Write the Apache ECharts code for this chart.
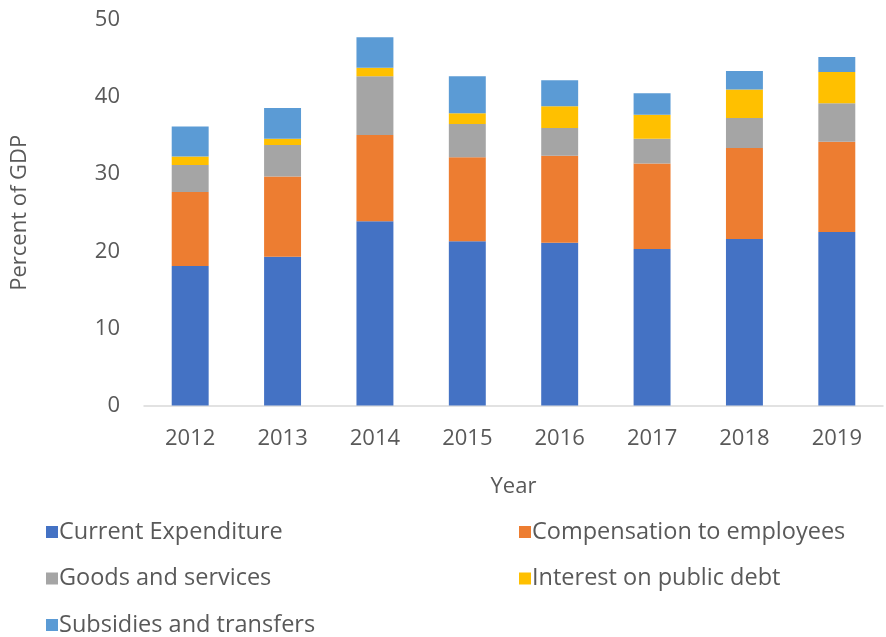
<!DOCTYPE html>
<html>
<head>
<meta charset="utf-8">
<script src="https://cdn.jsdelivr.net/npm/echarts@6/dist/echarts.min.js"></script>
<style>html,body{margin:0;padding:0;background:#fff;}#c{width:886px;height:637px;}</style>
</head>
<body>
<div id="c"></div>
<script>
const years = ['2012','2013','2014','2015','2016','2017','2018','2019'];
const currentExpenditure = [18.1, 19.3, 23.9, 21.3, 21.1, 20.3, 21.6, 22.5];
const compensation = [9.6, 10.4, 11.2, 10.9, 11.3, 11.1, 11.8, 11.7];
const goodsServices = [3.5, 4.1, 7.6, 4.3, 3.6, 3.2, 3.9, 5.0];
const interestDebt = [1.1, 0.8, 1.1, 1.4, 2.8, 3.1, 3.7, 4.05];
const subsidies = [3.9, 4.0, 3.95, 4.8, 3.4, 2.8, 2.4, 1.95];
const seriesNames = ['Current Expenditure','Compensation to employees','Goods and services','Interest on public debt','Subsidies and transfers'];
const colors = ['#4472C4','#ED7D31','#A5A5A5','#FFC000','#5B9BD5'];
const values = [currentExpenditure, compensation, goodsServices, interestDebt, subsidies];

const font = 'Open Sans';
const txt = '#595959';
const chart = echarts.init(document.getElementById('c'));
chart.setOption({
  animation: false,
  color: colors,
  textStyle: {fontFamily: font},
  grid: {left: 144, right: 3, top: 20, bottom: 231.5, containLabel: false},
  legend: [
    {data: [seriesNames[0], seriesNames[2], seriesNames[4]], orient: 'vertical', left: 46, top: 520, height: 200,
     padding: 0, itemWidth: 12, itemHeight: 12, itemGap: 22.5, icon: 'rect',
     textStyle: {fontSize: 23.5, color: txt, fontFamily: font, padding: [0,0,0,-4]}},
    {data: [seriesNames[1], seriesNames[3]], orient: 'vertical', left: 519, top: 520, height: 200,
     padding: 0, itemWidth: 12, itemHeight: 12, itemGap: 22.5, icon: 'rect',
     textStyle: {fontSize: 23.5, color: txt, fontFamily: font, padding: [0,0,0,-4]}}
  ],
  xAxis: {
    type: 'category', data: years,
    name: 'Year', nameLocation: 'middle', nameGap: 70,
    nameTextStyle: {fontSize: 22, color: txt, fontFamily: font},
    axisLine: {lineStyle: {color: '#D9D9D9', width: 1.5}},
    axisTick: {show: false},
    axisLabel: {fontSize: 22, color: txt, margin: 22, fontFamily: font}
  },
  yAxis: {
    type: 'value', min: 0, max: 50, interval: 10,
    name: 'Percent of GDP', nameLocation: 'middle', nameGap: 113, nameRotate: 90,
    nameTextStyle: {fontSize: 22, color: txt, fontFamily: font},
    axisLine: {show: false}, axisTick: {show: false},
    splitLine: {show: false},
    axisLabel: {fontSize: 22, color: txt, margin: 24, fontFamily: font}
  },
  series: seriesNames.map((n, i) => ({
    name: n, type: 'bar', stack: 'total', barWidth: '40%',
    data: values[i], itemStyle: {color: colors[i]}
  }))
});
</script>
</body>
</html>
